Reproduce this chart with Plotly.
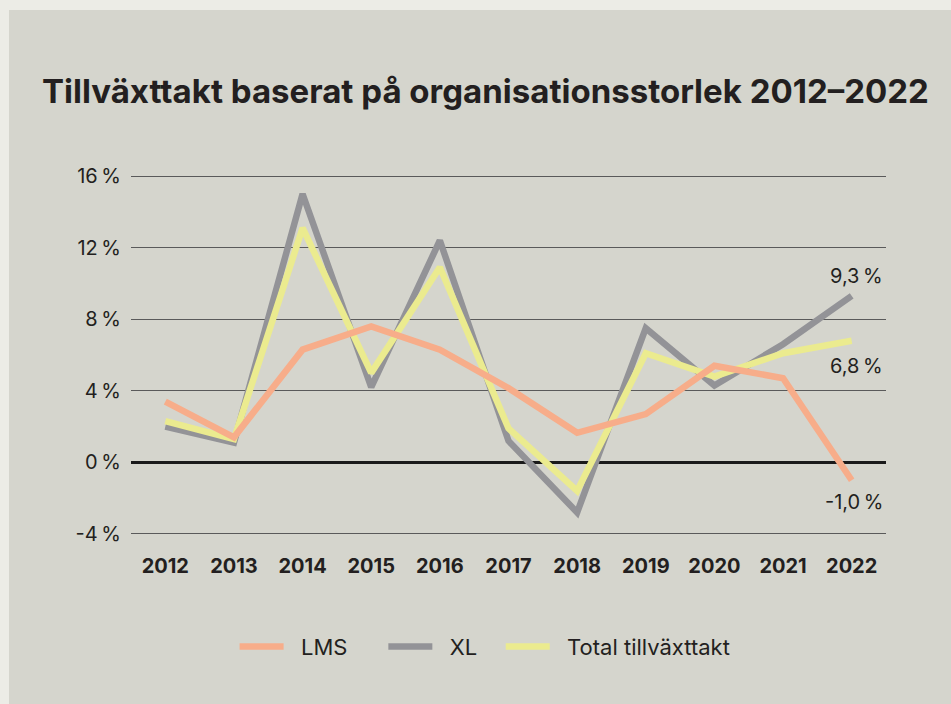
import plotly.graph_objects as go

years = ["2012", "2013", "2014", "2015", "2016", "2017", "2018", "2019", "2020", "2021", "2022"]
lms = [3.4, 1.4, 6.3, 7.6, 6.3, 4.15, 1.65, 2.7, 5.4, 4.7, -1.0]
xl = [2.0, 1.1, 15.0, 4.2, 12.4, 1.2, -2.8, 7.5, 4.3, 6.6, 9.3]
total = [2.3, 1.3, 13.1, 5.0, 10.9, 1.9, -1.6, 6.1, 4.8, 6.1, 6.8]
y_ticks = [-4, 0, 4, 8, 12, 16]
y_tick_text = ["-4\u202f%", "0\u202f%", "4\u202f%", "8\u202f%", "12\u202f%", "16\u202f%"]
end_labels = ["9,3\u202f%", "6,8\u202f%", "-1,0\u202f%"]

FONT = "Inter"
INK = "#231f20"
NB = "\u00a0"

fig = go.Figure()
# draw order: XL, total, LMS on top; legend order via legendrank
fig.add_trace(go.Scatter(x=years, y=xl, name=NB * 2 + "XL" + NB * 3, mode="lines", legendrank=2,
                         line=dict(color="#939397", width=6.5)))
fig.add_trace(go.Scatter(x=years, y=total, name=NB * 2 + "Total tillväxttakt", mode="lines",
                         legendrank=3, line=dict(color="#ebeb8f", width=6.5)))
fig.add_trace(go.Scatter(x=years, y=lms, name=NB * 2 + "LMS" + NB * 5, mode="lines", legendrank=1,
                         line=dict(color="#f7ad8a", width=6.5)))

last = len(years) - 1
# end-of-line value labels
fig.add_annotation(x=last, y=xl[-1], text=end_labels[0], showarrow=False,
                   xanchor="right", yanchor="middle", xshift=33, yshift=20)
fig.add_annotation(x=last, y=total[-1], text=end_labels[1], showarrow=False,
                   xanchor="right", yanchor="middle", xshift=33, yshift=-25)
fig.add_annotation(x=last, y=lms[-1], text=end_labels[2], showarrow=False,
                   xanchor="right", yanchor="middle", xshift=33, yshift=-22)

# inner panel
fig.add_shape(type="rect", xref="paper", yref="paper", layer="below",
              x0=(9 - 131) / 755, x1=(951 - 131) / 755,
              y0=-169 / 360, y1=(704 - 10 - 169) / 360,
              fillcolor="#d5d5cd", line=dict(width=0))

fig.update_layout(
    width=951, height=704,
    paper_bgcolor="#ecece6", plot_bgcolor="rgba(0,0,0,0)",
    margin=dict(l=131, r=65, t=175, b=169),
    font=dict(family=FONT, size=20, color=INK),
    title=dict(text="<b>Tillväxttakt baserat på organisationsstorlek 2012–2022</b>",
               x=42 / 951, xanchor="left", y=1 - 91 / 704, yanchor="middle",
               font=dict(family=FONT, size=33, color=INK)),
    legend=dict(orientation="h", x=0.469, xanchor="center", y=-0.31, yanchor="middle",
                font=dict(size=22), itemwidth=44, traceorder="normal",
                bgcolor="rgba(0,0,0,0)"),
    showlegend=True,
)
fig.update_xaxes(type="category", range=[-0.5, 10.5], showgrid=False, zeroline=False,
                 showline=False, ticks="outside", ticklen=13, tickcolor="rgba(0,0,0,0)",
                 tickfont=dict(family=FONT, size=20, color=INK, weight="bold"))
fig.update_yaxes(range=[-4.06, 16.06], tickvals=y_ticks, ticktext=y_tick_text,
                 showgrid=True, gridcolor="#5a5a5a", gridwidth=1,
                 zeroline=True, zerolinecolor="#1a1a1a", zerolinewidth=2.5,
                 showline=False, ticks="outside", ticklen=5, tickcolor="rgba(0,0,0,0)",
                 tickfont=dict(family=FONT, size=20, color=INK))

fig.write_html("out.html", config={"displayModeBar": False},
               post_script="document.body.style.margin='0';")
